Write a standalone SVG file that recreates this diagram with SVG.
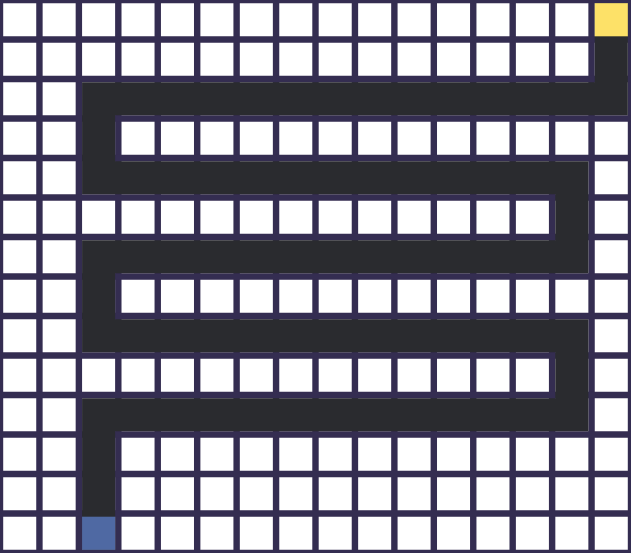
<svg xmlns="http://www.w3.org/2000/svg" width="631" height="553" viewBox="0 0 631 553">
<style>
.grid line{stroke:#342d51;stroke-width:6.4}
.path{fill:none;stroke:#2a2b2f;stroke-width:33.07;stroke-linejoin:miter;stroke-linecap:square}
.start{fill:#fde168}
.end{fill:#4f69a3}
</style>
<rect width="631" height="553" fill="#ffffff"/>
<g id="grid" class="grid">
<line x1="0" y1="0" x2="0" y2="553"/>
<line x1="39.4375" y1="0" x2="39.4375" y2="553"/>
<line x1="78.875" y1="0" x2="78.875" y2="553"/>
<line x1="118.3125" y1="0" x2="118.3125" y2="553"/>
<line x1="157.75" y1="0" x2="157.75" y2="553"/>
<line x1="197.1875" y1="0" x2="197.1875" y2="553"/>
<line x1="236.625" y1="0" x2="236.625" y2="553"/>
<line x1="276.0625" y1="0" x2="276.0625" y2="553"/>
<line x1="315.5" y1="0" x2="315.5" y2="553"/>
<line x1="354.9375" y1="0" x2="354.9375" y2="553"/>
<line x1="394.375" y1="0" x2="394.375" y2="553"/>
<line x1="433.8125" y1="0" x2="433.8125" y2="553"/>
<line x1="473.25" y1="0" x2="473.25" y2="553"/>
<line x1="512.6875" y1="0" x2="512.6875" y2="553"/>
<line x1="552.125" y1="0" x2="552.125" y2="553"/>
<line x1="591.5625" y1="0" x2="591.5625" y2="553"/>
<line x1="631" y1="0" x2="631" y2="553"/>
<line x1="0" y1="0" x2="631" y2="0"/>
<line x1="0" y1="39.5" x2="631" y2="39.5"/>
<line x1="0" y1="79" x2="631" y2="79"/>
<line x1="0" y1="118.5" x2="631" y2="118.5"/>
<line x1="0" y1="158" x2="631" y2="158"/>
<line x1="0" y1="197.5" x2="631" y2="197.5"/>
<line x1="0" y1="237" x2="631" y2="237"/>
<line x1="0" y1="276.5" x2="631" y2="276.5"/>
<line x1="0" y1="316" x2="631" y2="316"/>
<line x1="0" y1="355.5" x2="631" y2="355.5"/>
<line x1="0" y1="395" x2="631" y2="395"/>
<line x1="0" y1="434.5" x2="631" y2="434.5"/>
<line x1="0" y1="474" x2="631" y2="474"/>
<line x1="0" y1="513.5" x2="631" y2="513.5"/>
<line x1="0" y1="553" x2="631" y2="553"/>
</g>
<g id="route">
<polyline class="path" points="611.28,19.75 611.28,98.75 98.59,98.75 98.59,177.75 571.84,177.75 571.84,256.75 98.59,256.75 98.59,335.75 571.84,335.75 571.84,414.75 98.59,414.75 98.59,533.25"/>
</g>
<g id="start-cell"><rect class="start" x="594.76" y="3.2" width="33.04" height="33.1"/></g>
<g id="end-cell"><rect class="end" x="82.08" y="516.7" width="33.04" height="33.1"/></g>
</svg>
